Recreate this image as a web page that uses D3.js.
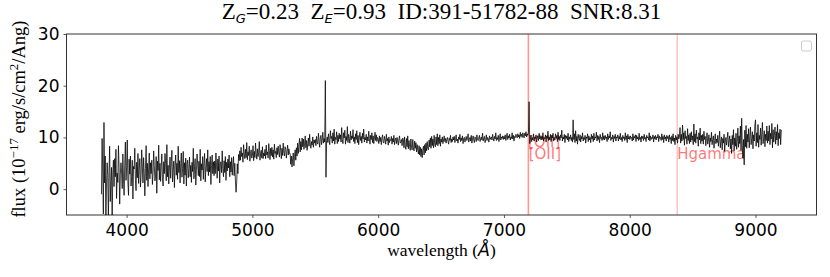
<!DOCTYPE html>
<html>
<head>
<meta charset="utf-8">
<script src="https://cdn.jsdelivr.net/npm/d3@7"></script>
<style>
  html, body { margin: 0; padding: 0; background: #fff; }
  svg text { white-space: pre; }
</style>
</head>
<body>
<div id="chart"></div>
<script>
// spectrum: one row per 100 Ang, starting at 3800, one sample every 5 Ang
const rowStart = 3800
const rowWidth = 100
const sampleStep = 5
const fluxRows = [
  [-1.0, 9.8, 3.5, -4.8, 12.9, 1.2, 6.4, -6.5, 0.8, 5.1, 2.6, -5.9, 3.2, 8.3, -2.4, 1.5, 4.2, -6.8, 2.9, 5.6],     // 3800
  [0.5, 5.9, 2.4, 7.7, -1.8, 3.1, 1.3, 8.4, 4.2, -2.9, 2.8, 5.1, 3.3, 0.1, 6.8, 2.0, -1.2, 4.6, 9.1, 1.7],        // 3900
  [4.1, 9.5, 1.5, -1.2, 5.8, 2.9, 6.4, 0.6, 2.4, 5.6, -1.9, 4.4, 3.9, 7.9, 1.8, -0.3, 5.2, 2.2, 6.9, 1.1],        // 4000
  [3.8, 5.9, 0.4, 2.7, 7.6, 4.3, 1.2, 6.1, 3.1, -1.3, 4.0, 8.4, 1.7, 5.0, 0.5, 3.9, 7.0, 2.0, 5.1, 3.0],          // 4100
  [5.6, 0.9, 3.0, 7.4, 4.6, 1.6, 2.5, 6.3, -0.8, 5.4, 3.6, 8.5, 1.8, 5.0, 1.5, 4.4, 6.8, 2.2, 0.6, 5.3],          // 4200
  [3.0, 6.9, 5.0, 1.6, 8.6, 2.4, 4.6, 1.0, 3.9, 6.2, 2.1, 5.3, 7.5, 1.4, 3.6, 5.4, 0.3, 4.6, 6.6, 2.7],           // 4300
  [5.0, 1.9, 8.3, 3.2, 5.5, 1.2, 4.9, 7.0, 2.3, 4.0, 7.3, 1.0, 5.1, 2.7, 6.0, 0.6, 5.0, 5.6, 2.2, 4.0],           // 4400
  [6.2, 2.4, 4.6, 1.3, 5.2, 3.4, 7.9, 2.0, 4.3, 5.9, 0.8, 3.6, 6.8, 4.8, 2.6, 5.4, 2.4, 7.7, 1.6, 4.9],           // 4500
  [3.7, 6.3, 1.9, 5.0, 6.9, 1.4, 4.1, 5.9, 3.4, 7.6, 2.6, 5.3, 3.3, 6.3, 0.9, 4.6, 6.6, 3.0, 5.3, 2.6],           // 4600
  [5.4, 3.0, 7.0, 4.3, 2.1, 5.8, 3.5, 6.4, 1.2, 4.9, 5.3, 3.2, 7.4, 4.0, 2.4, 5.5, 3.2, 6.3, 1.7, 5.2],           // 4700
  [3.5, 5.8, 4.1, 6.6, 2.4, 5.3, 3.3, 6.1, 2.7, 4.7, 6.3, 2.6, 5.0, 1.6, -0.6, 1.2, 4.9, 3.0, 6.7, 5.5],          // 4800
  [7.4, 5.6, 8.1, 6.3, 7.0, 5.2, 8.6, 6.8, 5.9, 7.7, 6.1, 9.0, 5.7, 7.2, 6.5, 8.3, 5.4, 6.9, 7.6, 6.0],           // 4900
  [6.6, 8.4, 5.5, 7.3, 6.1, 8.9, 6.9, 5.8, 7.8, 6.3, 7.1, 9.2, 5.6, 6.8, 7.5, 6.0, 8.2, 5.9, 7.0, 6.4],           // 5000
  [7.7, 5.9, 8.5, 6.6, 7.2, 6.0, 8.8, 7.4, 5.7, 7.9, 6.5, 8.1, 6.2, 7.6, 5.8, 8.7, 6.9, 7.3, 6.1, 8.0],           // 5100
  [6.7, 8.3, 7.0, 6.2, 8.6, 7.5, 5.9, 7.9, 6.5, 8.9, 7.1, 6.4, 8.2, 7.7, 6.0, 7.4, 8.5, 6.6, 7.8, 6.9],           // 5200
  [6.9, 4.8, 6.4, 4.3, 5.9, 7.0, 4.5, 6.3, 7.6, 5.6, 8.0, 6.4, 8.9, 6.9, 8.5, 9.8, 7.2, 9.2, 7.6, 9.9],           // 5300
  [8.2, 9.7, 7.7, 8.9, 10.3, 8.0, 9.4, 7.5, 8.8, 9.9, 8.3, 10.6, 8.7, 7.9, 9.2, 8.5, 10.1, 8.1, 9.5, 8.9],        // 5400
  [9.6, 8.4, 10.2, 9.0, 8.7, 10.8, 9.3, 8.1, 9.9, 10.4, 8.6, 9.5, 11.0, 8.9, 9.8, 9.1, 21.0, 2.3, 9.4, 10.1],     // 5500
  [9.0, 10.7, 9.5, 8.6, 11.3, 9.8, 10.2, 8.9, 10.9, 9.3, 11.6, 8.7, 10.0, 9.6, 11.1, 8.8, 10.4, 9.2, 10.8, 9.7],  // 5600
  [10.5, 9.1, 11.9, 9.6, 8.8, 10.9, 9.9, 11.4, 8.7, 10.2, 9.4, 12.1, 9.0, 10.6, 9.7, 8.9, 11.2, 9.5, 10.3, 9.8],  // 5700
  [11.5, 9.2, 10.1, 8.8, 10.7, 9.6, 11.3, 9.0, 10.4, 8.6, 9.9, 11.0, 9.4, 10.2, 8.9, 10.8, 9.7, 11.6, 9.1, 10.0], // 5800
  [9.5, 10.6, 8.9, 10.1, 9.3, 11.2, 9.8, 8.7, 10.4, 9.6, 10.9, 9.0, 10.3, 8.8, 9.9, 11.0, 9.4, 10.5, 9.2, 10.0],  // 5900
  [9.7, 8.8, 10.3, 9.2, 10.0, 8.6, 9.9, 10.5, 9.1, 8.9, 10.2, 9.5, 8.7, 10.6, 9.3, 9.8, 8.5, 10.1, 9.0, 9.6],     // 6000
  [9.4, 10.2, 8.7, 9.8, 9.1, 10.4, 8.6, 9.5, 9.9, 8.8, 10.0, 9.3, 8.5, 9.7, 10.3, 8.9, 9.2, 9.6, 8.4, 9.9],       // 6100
  [9.6, 8.0, 10.1, 8.4, 7.7, 9.8, 8.2, 10.3, 7.8, 9.4, 8.3, 7.5, 9.7, 8.1, 7.6, 9.6, 8.0, 7.4, 9.3, 7.9],         // 6200
  [9.0, 7.2, 8.6, 7.5, 6.8, 8.4, 6.6, 8.1, 6.3, 7.8, 6.1, 7.6, 8.3, 6.6, 8.6, 7.0, 8.9, 7.4, 9.2, 7.8],           // 6300
  [7.6, 9.5, 8.2, 9.9, 7.9, 10.2, 8.4, 9.7, 8.0, 10.4, 8.7, 8.2, 10.1, 8.6, 10.7, 8.4, 10.0, 8.8, 10.5, 8.3],     // 6400
  [9.7, 9.1, 10.1, 8.8, 9.5, 10.3, 9.2, 9.8, 8.9, 9.6, 10.0, 9.3, 8.7, 9.9, 9.4, 10.4, 9.0, 9.7, 9.2, 10.1],      // 6500
  [9.5, 10.2, 9.0, 9.8, 10.5, 9.3, 9.7, 8.9, 10.1, 9.6, 10.6, 9.2, 9.9, 9.4, 10.3, 8.8, 9.8, 10.0, 9.1, 9.7],     // 6600
  [10.2, 9.4, 9.8, 10.7, 9.1, 9.6, 10.0, 9.3, 10.4, 8.9, 9.7, 10.3, 9.5, 9.0, 10.1, 9.8, 9.2, 10.5, 9.6, 9.4],    // 6700
  [9.9, 10.4, 9.2, 9.7, 10.1, 9.5, 10.8, 9.3, 9.8, 10.2, 9.0, 9.6, 10.5, 9.4, 10.0, 9.7, 9.1, 10.3, 9.6, 9.9],    // 6800
  [10.1, 9.5, 10.6, 9.8, 9.3, 10.2, 9.7, 10.9, 9.4, 10.0, 9.6, 10.4, 9.2, 9.9, 10.7, 9.5, 10.1, 9.8, 10.3, 9.6],  // 6900
  [10.2, 9.7, 10.5, 9.4, 10.0, 10.8, 9.6, 10.3, 9.9, 10.6, 9.5, 10.1, 9.8, 10.9, 9.7, 10.4, 9.3, 10.2, 10.0, 10.6], // 7000
  [10.3, 9.9, 10.7, 10.1, 10.5, 9.8, 11.0, 10.2, 10.6, 10.0, 10.9, 10.4, 9.9, 10.8, 10.3, 11.1, 10.1, 10.7, 10.4, 10.9], // 7100
  [16.9, 8.8, 9.6, 10.4, 9.2, 10.0, 9.5, 10.7, 9.3, 10.1, 9.8, 10.5, 9.1, 9.9, 10.3, 9.4, 10.8, 9.7, 10.2, 9.5],  // 7200
  [10.2, 9.6, 10.9, 9.3, 10.0, 9.7, 10.5, 9.1, 10.3, 9.8, 11.2, 9.4, 10.1, 9.5, 10.6, 9.2, 10.4, 9.9, 10.8, 9.3], // 7300
  [10.0, 9.5, 10.7, 9.8, 10.3, 9.2, 11.0, 9.6, 10.2, 9.4, 10.5, 9.9, 11.4, 9.3, 10.1, 9.7, 10.6, 9.0, 10.4, 9.8], // 7400
  [10.3, 9.5, 10.8, 9.2, 10.1, 9.7, 10.5, 9.4, 10.0, 9.1, 13.4, 9.6, 10.7, 9.0, 11.3, 9.3, 10.2, 8.7, 10.6, 9.8], // 7500
  [9.4, 10.5, 9.1, 10.2, 9.7, 10.9, 9.3, 10.0, 9.6, 10.4, 8.9, 10.1, 9.8, 10.7, 9.2, 10.3, 9.5, 10.0, 9.0, 10.6], // 7600
  [9.7, 10.3, 9.2, 10.8, 9.5, 10.1, 9.9, 11.0, 9.3, 10.4, 9.6, 10.2, 9.0, 10.6, 9.8, 10.0, 9.4, 10.9, 9.6, 10.3], // 7700
  [9.5, 10.4, 9.8, 10.1, 9.2, 10.7, 9.6, 10.3, 9.9, 11.1, 9.4, 10.0, 9.7, 10.5, 9.1, 10.2, 9.8, 10.6, 9.3, 10.1], // 7800
  [9.9, 10.5, 9.3, 10.2, 9.7, 10.8, 9.5, 10.0, 9.2, 10.4, 9.8, 10.1, 9.4, 10.9, 9.6, 10.3, 9.0, 10.6, 9.7, 10.2], // 7900
  [9.6, 10.3, 9.8, 10.0, 9.3, 10.7, 9.5, 10.2, 9.9, 10.5, 9.2, 10.4, 9.7, 10.1, 9.4, 10.8, 9.6, 10.0, 9.1, 10.3], // 8000
  [9.8, 10.2, 9.4, 10.6, 9.7, 10.0, 9.2, 10.4, 9.9, 10.1, 9.5, 10.9, 9.3, 10.3, 9.6, 10.0, 9.8, 10.5, 9.1, 10.2], // 8100
  [9.7, 10.4, 9.5, 10.1, 9.9, 10.6, 9.2, 10.3, 9.8, 10.0, 9.4, 10.7, 9.6, 10.2, 9.0, 10.5, 9.7, 10.1, 9.3, 10.4], // 8200
  [9.8, 10.2, 9.1, 10.5, 9.6, 10.0, 8.8, 10.3, 9.4, 10.7, 9.2, 9.9, 8.6, 10.4, 9.5, 10.1, 8.9, 10.6, 9.7, 10.0],  // 8300
  [11.9, 8.9, 10.6, 9.3, 12.4, 9.6, 10.9, 8.5, 11.3, 9.8, 10.2, 8.7, 11.7, 9.4, 10.5, 8.8, 10.8, 9.1, 11.1, 9.5], // 8400
  [10.3, 8.6, 12.6, 9.2, 10.7, 8.9, 11.4, 9.7, 10.1, 8.3, 10.9, 9.5, 11.8, 8.8, 10.4, 9.3, 10.6, 8.7, 11.2, 9.6], // 8500
  [10.2, 8.4, 9.8, 10.9, 8.7, 9.5, 10.5, 8.1, 9.9, 9.2, 11.0, 8.6, 9.6, 10.3, 7.9, 9.4, 10.7, 8.8, 9.7, 9.0],     // 8600
  [10.4, 8.3, 9.6, 11.2, 8.0, 9.3, 10.1, 7.6, 9.8, 8.9, 10.6, 7.3, 9.5, 10.0, 8.5, 9.9, 11.0, 8.2, 9.4, 10.3],    // 8700
  [7.8, 9.7, 6.9, 10.4, 8.6, 11.5, 7.4, 9.9, 8.3, 10.8, 7.7, 9.2, 11.8, 8.1, 10.3, 8.8, 12.2, 7.5, 13.7, 8.4],    // 8800
  [6.0, 9.6, 4.7, 11.4, 8.2, 12.3, 7.9, 10.6, 9.1, 11.7, 8.0, 10.2, 12.0, 8.6, 9.8, 11.1, 7.8, 10.5, 9.3, 12.4],  // 8900
  [13.4, 8.3, 10.9, 9.0, 12.5, 8.1, 10.4, 9.6, 11.8, 8.5, 10.7, 12.9, 8.8, 9.9, 11.3, 8.2, 10.6, 9.4, 12.2, 8.9], // 9000
  [11.2, 9.3, 12.3, 8.6, 10.8, 9.7, 12.7, 8.0, 11.5, 9.1, 10.4, 12.0, 8.7, 11.1, 9.5, 12.5, 8.4, 10.9, 9.8, 11.6], // 9100
  [8.6, 11.4, 11.3]                                                                                              // 9200
]

// emission lines (rest wavelength) and where their labels sit
const zG = 0.23
const zE = 0.93
const lineNames = ['[OII]', '[OII]', 'Hgamma']
const lineRest = [3726.03, 3728.82, 4340.47]
const lineLabelY = [8.2, 5.9, 5.9]

const xTicks = [4000, 5000, 6000, 7000, 8000, 9000]
const yTicks = [0, 10, 20, 30]

const width = 830
const height = 277
const margin = {left: 66.5, right: 13.5, top: 34, bottom: 62}

const spectrum = []
fluxRows.forEach((row, r) => {
    row.forEach((f, j) => {
        spectrum.push({wave: rowStart + r * rowWidth + j * sampleStep, flux: f})
    })
})

const svg = d3.select('#chart')
    .append('svg')
    .attr('width', width)
    .attr('height', height)

const x = d3.scaleLinear()
    .domain([3522, 9485])
    .range([margin.left, width - margin.right])

const y = d3.scaleLinear()
    .domain([-5, 30])
    .range([height - margin.bottom, margin.top])

svg.append('clipPath')
    .attr('id', 'plot-clip')
    .append('rect')
    .attr('x', margin.left)
    .attr('y', margin.top)
    .attr('width', width - margin.left - margin.right)
    .attr('height', height - margin.top - margin.bottom)

// axes
const xAxis = svg.append('g')
    .attr('transform', `translate(0,${height - margin.bottom})`)
    .call(d3.axisBottom(x).tickValues(xTicks).tickSize(3).tickPadding(6).tickFormat(d3.format('d')))

const yAxis = svg.append('g')
    .attr('transform', `translate(${margin.left},0)`)
    .call(d3.axisLeft(y).tickValues(yTicks).tickSize(3).tickPadding(4).tickFormat(d3.format('d')))

;[xAxis, yAxis].forEach(ax => {
    ax.select('.domain').remove()
    ax.selectAll('line').attr('stroke', '#333').attr('stroke-width', 0.8)
    ax.selectAll('text')
        .attr('fill', '#000')
        .style('font-family', '"DejaVu Sans", sans-serif')
        .style('font-size', '17px')
})

// frame
svg.append('rect')
    .attr('x', margin.left)
    .attr('y', margin.top)
    .attr('width', width - margin.left - margin.right)
    .attr('height', height - margin.top - margin.bottom)
    .attr('fill', 'none')
    .attr('stroke', '#333')
    .attr('stroke-width', 1)

const plot = svg.append('g').attr('clip-path', 'url(#plot-clip)')

// emission line markers
const lines = lineNames.map((name, i) => ({
    name,
    wave: lineRest[i] * (1 + zE),
    labelY: lineLabelY[i]
}))

plot.selectAll('.eline')
    .data(lines)
    .enter()
    .append('line')
    .attr('class', 'eline')
    .attr('x1', d => x(d.wave))
    .attr('x2', d => x(d.wave))
    .attr('y1', margin.top)
    .attr('y2', height - margin.bottom)
    .attr('stroke', 'red')
    .attr('stroke-opacity', 0.35)
    .attr('stroke-width', 1)

plot.selectAll('.elabel')
    .data(lines)
    .enter()
    .append('text')
    .attr('class', 'elabel')
    .attr('x', d => x(d.wave))
    .attr('y', d => y(d.labelY))
    .attr('fill', 'red')
    .attr('fill-opacity', 0.55)
    .style('font-family', '"DejaVu Sans", sans-serif')
    .style('font-size', '15px')
    .text(d => d.name)

// the spectrum itself
plot.append('path')
    .datum(spectrum)
    .attr('fill', 'none')
    .attr('stroke', '#000')
    .attr('stroke-width', 0.85)
    .attr('stroke-opacity', 0.9)
    .attr('stroke-linejoin', 'round')
    .attr('d', d3.line().x(d => x(d.wave)).y(d => y(d.flux)))

// empty legend box
svg.append('rect')
    .attr('x', 801.5)
    .attr('y', 41)
    .attr('width', 10)
    .attr('height', 10)
    .attr('rx', 2)
    .attr('fill', '#fff')
    .attr('stroke', '#ccc')
    .attr('stroke-width', 1)

// title
const cx = (margin.left + width - margin.right) / 2
const title = svg.append('text')
    .attr('x', cx)
    .attr('y', 19)
    .attr('text-anchor', 'middle')
    .style('font-family', '"Liberation Serif", "Times New Roman", serif')
    .style('font-size', '23px')

const sub = (t, txt) => {
    t.append('tspan')
        .attr('dy', 3.5)
        .style('font-family', '"DejaVu Sans", sans-serif')
        .style('font-style', 'italic')
        .style('font-size', '13px')
        .text(txt)
}
title.append('tspan').text('Z')
sub(title, 'G')
title.append('tspan').attr('dy', -3.5).text(`=${zG.toFixed(2)}  Z`)
sub(title, 'E')
title.append('tspan').attr('dy', -3.5).text(`=${zE.toFixed(2)}  ID:391-51782-88  SNR:8.31`)

// x label
const xl = svg.append('text')
    .attr('x', cx)
    .attr('y', 256)
    .attr('text-anchor', 'middle')
    .style('font-family', '"Liberation Serif", "Times New Roman", serif')
    .style('font-size', '17.5px')
xl.append('tspan').text('wavelength (')
xl.append('tspan')
    .style('font-family', '"DejaVu Sans", sans-serif')
    .style('font-style', 'italic')
    .text('Å')
xl.append('tspan').text(')')

// y label
const yl = svg.append('text')
    .attr('transform', 'translate(25,119) rotate(-90)')
    .attr('text-anchor', 'middle')
    .style('font-family', '"Liberation Serif", "Times New Roman", serif')
    .style('font-size', '18.5px')
yl.append('tspan').text('flux (10')
yl.append('tspan').attr('dy', -7.5).style('font-size', '13px').text('−17')
yl.append('tspan').attr('dy', 7.5).text(' erg/s/cm')
yl.append('tspan').attr('dy', -7.5).style('font-size', '13px').text('2')
yl.append('tspan').attr('dy', 7.5).text('/Ang)')
</script>
</body>
</html>
